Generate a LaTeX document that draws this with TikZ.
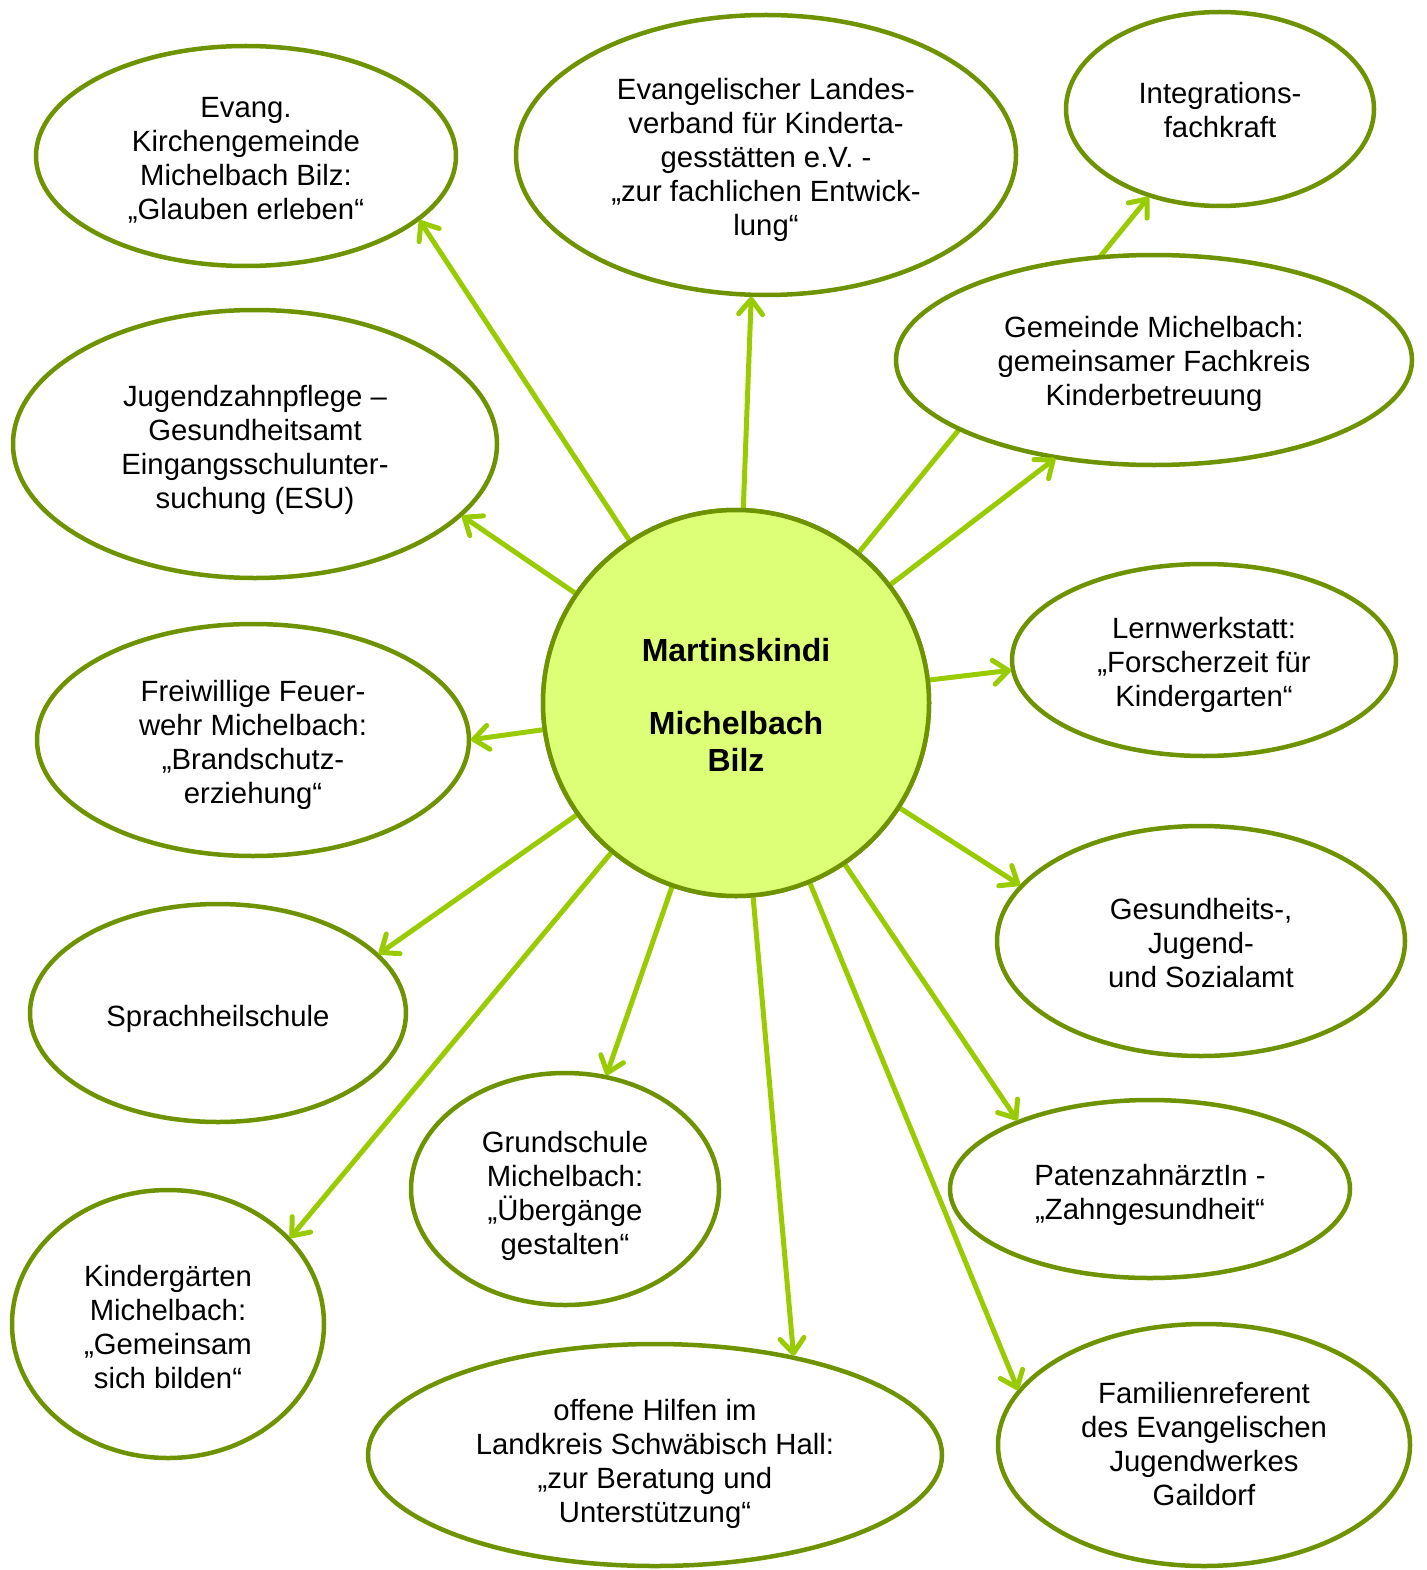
\documentclass[tikz,border=0pt]{standalone}
\usepackage{fontspec}
\setmainfont{Liberation Sans}
\usetikzlibrary{shapes.geometric,arrows.meta}
\definecolor{arrowgreen}{HTML}{99CC00}
\definecolor{olive}{HTML}{6E9300}
\definecolor{hubfill}{HTML}{DDFF77}
\tikzset{
  bub/.style={ellipse, draw=olive, line width=4.5pt, fill=white, inner sep=0pt, outer sep=0pt},
  bubtext/.style={align=center, inner sep=0pt, font=\fontsize{29.3}{34}\selectfont},
  hub/.style={circle, draw=olive, line width=4.5pt, fill=hubfill, inner sep=0pt, outer sep=0pt,
    minimum size=386pt},
  hubtext/.style={align=center, inner sep=0pt, font=\fontsize{32}{36.5}\selectfont\bfseries},
  arr/.style={draw=arrowgreen, line width=5pt, line cap=round, shorten >=2pt,
    -{Straight Barb[length=15pt,width=24pt,round]}}
}
\begin{document}
\begin{tikzpicture}[x=1pt,y=-1pt]
\useasboundingbox (0,0) rectangle (1426,1570);
% hub
\node[hub] (c) at (736,703) {};
\path
  (246,156) coordinate (p1)
  (766,155) coordinate (p2)
  (1220,109) coordinate (p3)
  (1154,360) coordinate (p4)
  (255,444) coordinate (p5)
  (1204,660) coordinate (p6)
  (253,740) coordinate (p7)
  (1201,941) coordinate (p8)
  (218,1013) coordinate (p9)
  (565,1189) coordinate (p10)
  (1150,1189) coordinate (p11)
  (168,1324) coordinate (p12)
  (655,1455) coordinate (p13)
  (1204,1445) coordinate (p14);
\node[bub, minimum width=420pt, minimum height=220pt] (e1) at (p1) {};
\node[bub, minimum width=500pt, minimum height=280pt] (e2) at (p2) {};
\node[bub, minimum width=308pt, minimum height=194pt] (e3) at (p3) {};
\node[bub, minimum width=484pt, minimum height=268pt] (e5) at (p5) {};
\node[bub, minimum width=384pt, minimum height=192pt] (e6) at (p6) {};
\node[bub, minimum width=432pt, minimum height=232pt] (e7) at (p7) {};
\node[bub, minimum width=408pt, minimum height=230pt] (e8) at (p8) {};
\node[bub, minimum width=376pt, minimum height=218pt] (e9) at (p9) {};
\node[bub, minimum width=308pt, minimum height=232pt] (e10) at (p10) {};
\node[bub, minimum width=400pt, minimum height=178pt] (e11) at (p11) {};
\node[bub, minimum width=312pt, minimum height=268pt] (e12) at (p12) {};
\node[bub, minimum width=574pt, minimum height=222pt] (e13) at (p13) {};
\node[bub, minimum width=412pt, minimum height=242pt] (e14) at (p14) {};
% arrows
\draw[arr] (c) -- (e1.-20);
\draw[arr] (c) -- (e2.-96);
\draw[arr] (c) -- (e3.-129);
\draw[arr] (c) -- (e5.-19);
\draw[arr] (c) -- (e6.-177);
\draw[arr] (c) -- (e7.0);
\draw[arr] (c) -- (e8.163);
\draw[arr] (c) -- (e9.20);
\draw[arr] (c) -- (e10.70);
\draw[arr] (c) -- (e11.153);
\draw[arr] (c) -- (e12.35);
\draw[arr] (c) -- (e13.35);
\draw[arr] (c) -- (e14.164);
% Gemeinde ellipse covers the line to Integrationsfachkraft
\node[bub, minimum width=516pt, minimum height=210pt] (e4) at (p4) {};
\draw[arr] (c) -- (e4.-135);
% hub on top
\node[hub] (c2) at (c) {};
% texts
\node[bubtext] (t1) at ([yshift=-4pt]p1) {Evang.\\Kirchengemeinde\\Michelbach Bilz:\\„Glauben erleben“};
\node[bubtext] (t2) at ([yshift=-5pt]p2) {Evangelischer Landes-\\verband für Kinderta-\\gesstätten e.V. -\\„zur fachlichen Entwick-\\lung“};
\node[bubtext] (t3) at ([yshift=-1pt]p3) {Integrations-\\fachkraft};
\node[bubtext] (t4) at ([yshift=-4pt]p4) {Gemeinde Michelbach:\\gemeinsamer Fachkreis\\Kinderbetreuung};
\node[bubtext] (t5) at ([yshift=-6pt]p5) {Jugendzahnpflege –\\Gesundheitsamt\\Eingangsschulunter-\\suchung (ESU)};
\node[bubtext] (t6) at ([yshift=-5pt]p6) {Lernwerkstatt:\\„Forscherzeit für\\Kindergarten“};
\node[bubtext] (t7) at ([yshift=-5pt]p7) {Freiwillige Feuer-\\wehr Michelbach:\\„Brandschutz-\\erziehung“};
\node[bubtext] (t8) at ([yshift=-2pt]p8) {Gesundheits-,\\Jugend-\\und Sozialamt};
\node[bubtext] (t9) at ([yshift=-6pt]p9) {Sprachheilschule};
\node[bubtext] (t10) at ([yshift=-7pt]p10) {Grundschule\\Michelbach:\\„Übergänge\\gestalten“};
\node[bubtext] (t11) at ([yshift=-6pt]p11) {PatenzahnärztIn -\\„Zahngesundheit“};
\node[bubtext] (t12) at ([yshift=-3pt]p12) {Kindergärten\\Michelbach:\\„Gemeinsam\\sich bilden“};
\node[bubtext] (t13) at ([yshift=-9pt]p13) {offene Hilfen im\\Landkreis Schwäbisch Hall:\\„zur Beratung und\\Unterstützung“};
\node[bubtext] (t14) at ([yshift=1pt]p14) {Familienreferent\\des Evangelischen\\Jugendwerkes\\Gaildorf};
\node[hubtext] (tc) at ([yshift=-2pt]c) {Martinskindi\\[36.5pt]Michelbach\\Bilz};
\end{tikzpicture}
\end{document}
